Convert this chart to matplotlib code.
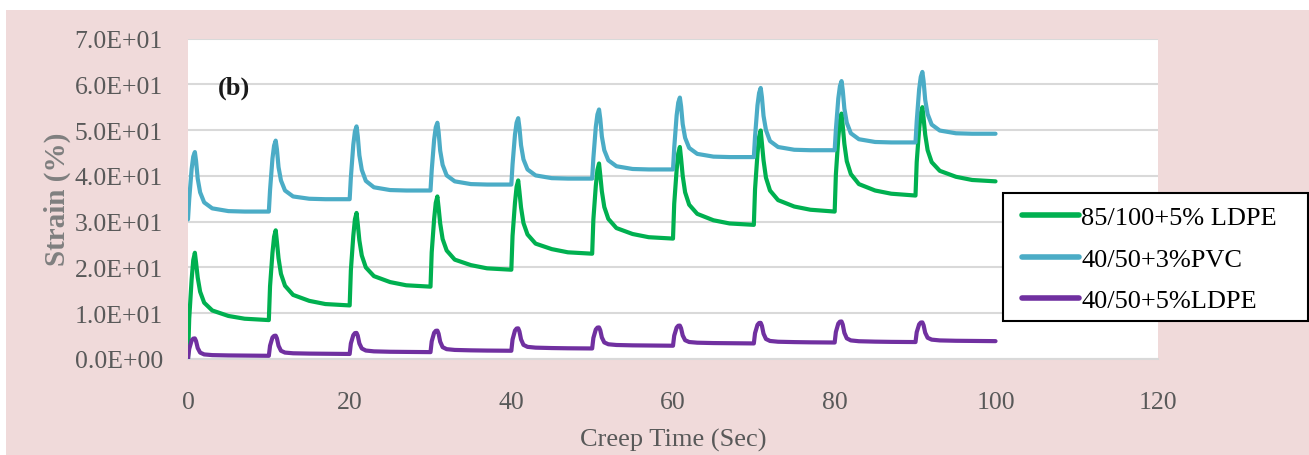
import matplotlib
matplotlib.use("Agg")
import matplotlib.pyplot as plt
from matplotlib.patches import Rectangle

# ---------------- data ----------------
cycle_starts = [0, 10, 20, 30, 40, 50, 60, 70, 80, 90]
cycle_offsets = [0, 0.15, 0.45, 0.65, 0.85, 1.0, 1.2, 1.5, 2.0, 3.0, 5.0, 7.0, 9.9]

green_ldpe_85 = [
    [0.0, 8.8, 17.4, 21.6, 23.2, 21.0, 17.8, 14.7, 12.3, 10.6, 9.4, 8.8, 8.5],
    [8.5, 15.9, 23.2, 26.7, 28.1, 25.6, 22.0, 18.6, 16.0, 14.0, 12.7, 12.0, 11.7],
    [11.7, 19.4, 26.9, 30.5, 31.9, 29.5, 25.9, 22.6, 20.0, 18.1, 16.8, 16.1, 15.8],
    [15.8, 23.3, 30.6, 34.1, 35.5, 33.1, 29.6, 26.2, 23.7, 21.7, 20.5, 19.8, 19.5],
    [19.5, 26.9, 34.1, 37.6, 39.0, 36.6, 33.1, 29.7, 27.2, 25.2, 24.0, 23.3, 23.0],
    [23.0, 30.5, 37.8, 41.3, 42.7, 40.2, 36.6, 33.2, 30.6, 28.6, 27.3, 26.6, 26.3],
    [26.3, 33.9, 41.3, 44.9, 46.3, 43.8, 40.0, 36.4, 33.7, 31.7, 30.3, 29.6, 29.3],
    [29.3, 37.1, 44.8, 48.5, 49.9, 47.2, 43.4, 39.6, 36.8, 34.7, 33.3, 32.6, 32.2],
    [32.2, 40.3, 48.3, 52.1, 53.6, 50.9, 47.0, 43.2, 40.4, 38.2, 36.8, 36.1, 35.7],
    [35.7, 43.0, 50.2, 53.6, 55.0, 52.6, 49.0, 45.6, 43.0, 41.1, 39.8, 39.1, 38.8],
]
blue_pvc_40 = [
    [30.5, 34.9, 41.5, 44.2, 45.2, 43.2, 39.4, 36.4, 34.2, 32.9, 32.3, 32.2, 32.2],
    [32.2, 36.9, 43.8, 46.6, 47.7, 45.8, 41.9, 39.0, 36.8, 35.5, 35.0, 34.9, 34.9],
    [34.9, 39.7, 46.8, 49.7, 50.8, 48.7, 44.5, 41.3, 38.9, 37.5, 36.9, 36.8, 36.8],
    [36.8, 41.2, 47.9, 50.6, 51.6, 49.6, 45.5, 42.4, 40.1, 38.8, 38.2, 38.1, 38.1],
    [38.1, 42.5, 49.0, 51.6, 52.6, 50.6, 46.7, 43.6, 41.4, 40.1, 39.5, 39.4, 39.4],
    [39.4, 43.9, 50.7, 53.4, 54.5, 52.5, 48.6, 45.6, 43.4, 42.1, 41.5, 41.4, 41.4],
    [41.4, 46.1, 53.2, 56.0, 57.1, 55.2, 51.3, 48.3, 46.1, 44.8, 44.2, 44.1, 44.1],
    [44.1, 48.6, 55.4, 58.1, 59.2, 57.2, 53.1, 50.0, 47.6, 46.3, 45.7, 45.6, 45.6],
    [45.6, 50.1, 56.9, 59.6, 60.7, 58.7, 54.7, 51.6, 49.3, 48.0, 47.4, 47.3, 47.3],
    [47.3, 51.9, 58.9, 61.6, 62.7, 60.7, 56.6, 53.5, 51.2, 49.9, 49.3, 49.2, 49.2],
]
purple_ldpe_40 = [
    [0.0, 2.2, 4.05, 4.45, 4.5, 3.9, 2.4, 1.4, 1.0, 0.85, 0.78, 0.74, 0.7],
    [0.7, 2.9, 4.7, 5.05, 5.1, 4.5, 2.9, 1.8, 1.4, 1.25, 1.18, 1.14, 1.1],
    [1.1, 3.4, 5.2, 5.65, 5.7, 5.1, 3.4, 2.3, 1.85, 1.67, 1.58, 1.54, 1.5],
    [1.5, 3.85, 5.73, 6.15, 6.2, 5.54, 3.78, 2.59, 2.15, 1.98, 1.89, 1.84, 1.8],
    [1.8, 4.25, 6.21, 6.65, 6.7, 6.04, 4.28, 3.09, 2.65, 2.48, 2.39, 2.34, 2.3],
    [2.3, 4.6, 6.44, 6.85, 6.9, 6.3, 4.7, 3.62, 3.22, 3.06, 2.98, 2.94, 2.9],
    [2.9, 5.1, 6.86, 7.26, 7.3, 6.7, 5.15, 4.1, 3.71, 3.56, 3.48, 3.44, 3.4],
    [3.4, 5.65, 7.45, 7.86, 7.9, 7.25, 5.53, 4.37, 3.94, 3.77, 3.69, 3.64, 3.6],
    [3.6, 5.9, 7.74, 8.15, 8.2, 7.52, 5.72, 4.51, 4.06, 3.88, 3.79, 3.74, 3.7],
    [3.7, 5.85, 7.57, 7.96, 8.0, 7.38, 5.74, 4.64, 4.23, 4.06, 3.98, 3.94, 3.9],
]

series_labels = ["85/100+5% LDPE", "40/50+3%PVC", "40/50+5%LDPE"]
series_colors = ["#00B050", "#4BACC6", "#7030A0"]

x_ticks = [0, 20, 40, 60, 80, 100, 120]
y_ticks = [0, 10, 20, 30, 40, 50, 60, 70]
y_tick_labels = ["0.0E+00", "1.0E+01", "2.0E+01", "3.0E+01",
                 "4.0E+01", "5.0E+01", "6.0E+01", "7.0E+01"]

# ---------------- figure ----------------
plt.rcParams["font.family"] = ["Liberation Serif", "DejaVu Serif"]

W, H = 1309, 456
fig = plt.figure(figsize=(W / 100, H / 100), dpi=100)
fig.patch.set_facecolor("white")
bg = Rectangle((6 / W, 0), 1 - 6 / W, 1 - 11 / H,
               transform=fig.transFigure, facecolor="#F0DADA",
               edgecolor="none", zorder=-10)
fig.patches.append(bg)

ax = fig.add_axes([188 / W, 1 - 360 / H, (1158 - 188) / W, (360 - 39.5) / H])
ax.set_zorder(1)
ax.set_facecolor("white")

times = [c + o for c in cycle_starts for o in cycle_offsets]
for data, lab, col in zip([green_ldpe_85, blue_pvc_40, purple_ldpe_40],
                          series_labels, series_colors):
    vals = [v for cyc in data for v in cyc]
    ax.plot(times, vals, color=col, lw=3.0, label=lab,
            solid_joinstyle="round", solid_capstyle="round", zorder=3)

ax.set_xlim(0, 120)
ax.set_ylim(0, 70)
ax.set_xticks(x_ticks)
ax.set_yticks(y_ticks)
ax.set_yticklabels(y_tick_labels)
ax.tick_params(axis="both", length=0, labelsize=18.5, colors="#595959")
ax.tick_params(axis="y", pad=18)
ax.tick_params(axis="x", pad=23)
ax.grid(axis="y", color="#D9D9D9", lw=1.5, zorder=0)
ax.set_axisbelow(True)
for s in ["top", "right", "left"]:
    ax.spines[s].set_visible(False)
ax.spines["bottom"].set_color("#D9D9D9")
ax.spines["bottom"].set_linewidth(1.5)

ax.set_xlabel("Creep Time (Sec)", fontsize=19, color="#595959", labelpad=11)
ax.set_ylabel("Strain (%)", fontsize=21, color="#7F7F7F", fontweight="bold",
              labelpad=3)

ax.text(5.7, 59.4, "(b)", fontsize=19, fontweight="bold", color="#1a1a1a",
        ha="center", va="center")

# legend frame drawn as a rectangle for exact padding
frame = Rectangle((1003 / W, 1 - 322 / H), 305 / W, 128 / H,
                  transform=fig.transFigure, facecolor="white",
                  edgecolor="black", lw=1.5, zorder=9, clip_on=False)
ax.add_patch(frame)

leg = ax.legend(loc="upper left", bbox_to_anchor=(1022 / W, 1 - 207 / H),
                bbox_transform=fig.transFigure, borderaxespad=0, borderpad=0,
                fontsize=19, frameon=False, handlelength=2.15,
                handletextpad=0.1, labelspacing=0.68)
leg.set_zorder(10)
for h in leg.get_lines():
    h.set_linewidth(4)

fig.savefig("out.png", dpi=100, facecolor=fig.get_facecolor())
